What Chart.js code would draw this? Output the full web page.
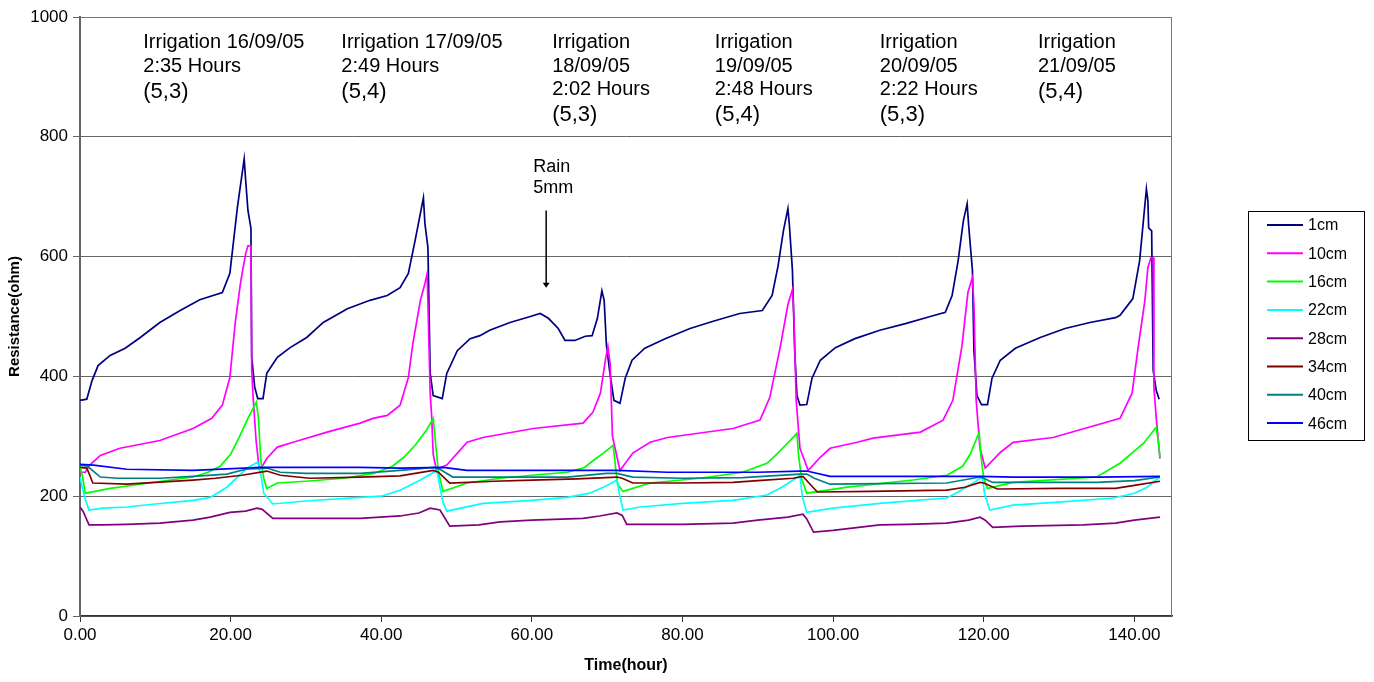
<!DOCTYPE html>
<html>
<head>
<meta charset="utf-8">
<title>Resistance vs time</title>
<script src="https://cdn.jsdelivr.net/npm/chart.js@4/dist/chart.umd.min.js"></script>
<style>
    body { margin: 0; background: #ffffff; }
    #wrap { width: 1374px; height: 682px; }
</style>
</head>
<body>
<div id="wrap"><canvas id="resChart" width="1374" height="682"></canvas></div>
<script>
// ==============================
// Soil resistance per depth, [hour, ohm]
// ==============================

const depthLabels = ["1cm", "10cm", "16cm", "22cm", "28cm", "34cm", "40cm", "46cm"];
const depthColors = ["#000080", "#ff00ff", "#00ff00", "#00ffff", "#800080", "#800000", "#008080", "#0000ff"];

const xTickValues = [0, 20, 40, 60, 80, 100, 120, 140];

const res1cm = [
    [0, 360], [0.9, 362], [1.6, 393], [2.4, 418], [4.0, 435], [6.0, 447], [8.0, 465], [10.6, 490],
    [13.3, 510], [15.9, 528], [18.9, 540], [19.9, 572], [20.9, 682], [21.8, 763], [22.0, 727],
    [22.3, 677], [22.7, 647], [22.8, 432], [23.2, 382], [23.6, 363], [24.3, 363], [24.8, 405],
    [26.2, 432], [27.9, 448], [30.1, 465], [32.3, 490], [35.5, 513], [38.5, 527], [40.8, 535],
    [42.5, 548], [43.6, 572], [44.5, 627], [45.6, 698], [45.8, 655], [46.2, 615], [46.5, 405],
    [46.9, 368], [48.1, 363], [48.7, 405], [50.1, 443], [51.8, 463], [53.1, 468], [54.4, 477],
    [57.1, 490], [59.8, 500], [61.1, 505], [62.2, 497], [63.5, 480], [64.4, 460], [65.7, 460],
    [67.1, 467], [68.0, 468], [68.7, 497], [69.3, 543], [69.6, 527], [69.9, 452], [70.4, 402],
    [70.9, 360], [71.7, 355], [72.4, 397], [73.3, 427], [75.0, 447], [77.7, 463], [81.0, 480],
    [84.3, 493], [87.6, 505], [90.6, 510], [91.9, 535], [92.7, 585], [93.4, 643], [94.0, 680],
    [94.2, 652], [94.6, 577], [94.9, 443], [95.2, 368], [95.6, 352], [96.5, 353], [97.2, 397],
    [98.3, 427], [100.3, 448], [102.9, 463], [106.2, 477], [109.6, 488], [112.9, 500], [114.9, 507],
    [115.8, 535], [116.6, 593], [117.3, 660], [117.8, 688], [118.0, 652], [118.5, 577], [118.7, 443],
    [119.1, 368], [119.7, 353], [120.5, 353], [121.1, 397], [122.2, 427], [124.2, 447], [127.5, 465],
    [130.8, 480], [134.1, 490], [137.5, 498], [138.1, 502], [139.8, 530], [140.7, 593], [141.6, 713],
    [141.8, 693], [141.9, 648], [142.3, 643], [142.5, 410], [142.9, 377], [143.3, 362]
];

const res10cm = [
    [0, 240], [0.7, 240], [1.3, 252], [2.7, 268], [5.3, 280], [10.6, 293], [15.0, 313], [17.5, 330],
    [18.9, 352], [19.9, 398], [20.6, 488], [21.3, 555], [21.6, 577], [22.0, 605], [22.3, 618],
    [22.7, 618], [22.8, 410], [23.0, 363], [23.4, 290], [23.8, 247], [24.2, 250], [24.8, 263],
    [26.2, 282], [28.3, 290], [32.8, 307], [37.2, 322], [38.9, 330], [40.8, 335], [42.5, 352],
    [43.6, 398], [44.2, 455], [45.2, 527], [45.8, 555], [46.1, 572], [46.2, 572], [46.5, 372],
    [46.7, 332], [46.9, 270], [47.3, 245], [48.7, 252], [51.4, 290], [53.5, 298], [60.2, 313],
    [66.8, 322], [68.1, 340], [69.1, 372], [69.8, 430], [70.1, 450], [70.4, 420], [70.7, 300],
    [71.7, 243], [73.4, 272], [75.7, 290], [78.0, 298], [86.7, 313], [90.3, 327], [91.6, 365],
    [93.0, 450], [94.0, 520], [94.6, 545], [94.8, 500], [95.1, 360], [95.6, 280], [96.7, 243],
    [98.3, 265], [99.6, 280], [103.2, 290], [105.3, 297], [111.6, 307], [114.6, 327], [115.9, 360],
    [117.1, 450], [117.9, 540], [118.5, 565], [118.7, 520], [119.0, 360], [119.5, 280], [120.2, 247],
    [122.2, 273], [123.9, 290], [129.2, 298], [138.1, 330], [139.7, 372], [140.5, 448], [141.4, 527],
    [141.8, 582], [142.2, 598], [142.5, 598], [142.6, 382], [142.9, 332], [143.4, 263]
];

const res16cm = [
    [0, 250], [0.3, 235], [0.7, 205], [2.0, 208], [4.0, 213], [8.0, 220], [12.0, 227], [15.0, 232],
    [17.0, 240], [18.6, 250], [20.0, 270], [21.2, 300], [22.3, 330], [23.4, 357], [23.7, 330],
    [24.0, 260], [24.4, 230], [24.8, 213], [26.2, 222], [30.0, 225], [35.0, 230], [39.0, 238],
    [41.5, 250], [43.0, 265], [44.5, 285], [46.0, 310], [46.9, 330], [47.2, 290], [47.6, 240],
    [48.2, 208], [51.4, 222], [55.8, 230], [60.0, 235], [64.7, 240], [67.0, 248], [68.2, 260],
    [69.5, 272], [70.8, 285], [71.1, 250], [71.4, 220], [72.1, 208], [75.7, 222], [82.3, 230],
    [88.0, 240], [91.2, 255], [92.5, 270], [93.9, 288], [95.2, 305], [95.4, 270], [95.8, 230],
    [96.5, 205], [101.9, 215], [110.6, 227], [115.1, 235], [117.2, 250], [118.2, 270], [119.4, 307],
    [119.6, 270], [120.0, 230], [120.5, 213], [123.9, 223], [135.0, 232], [138.1, 255], [141.2, 288],
    [142.9, 315], [143.2, 290], [143.4, 265]
];

const res22cm = [
    [0, 232], [0.3, 215], [0.7, 195], [1.2, 177], [3.0, 180], [6.2, 182], [10.0, 187], [15.0, 193],
    [17.3, 198], [19.5, 215], [22.2, 247], [23.6, 257], [24.1, 230], [24.4, 205], [25.6, 187],
    [30.0, 192], [37.2, 198], [40.0, 200], [42.5, 210], [45.2, 227], [47.4, 243], [47.8, 215],
    [48.2, 190], [48.7, 175], [53.5, 188], [60.0, 193], [64.7, 198], [67.7, 205], [70.0, 218],
    [71.3, 227], [71.6, 205], [72.1, 177], [74.4, 182], [80.0, 188], [86.7, 193], [91.2, 202],
    [93.2, 215], [94.7, 227], [95.6, 235], [95.9, 200], [96.5, 173], [100.0, 180], [106.2, 188],
    [115.1, 197], [116.6, 207], [118.6, 222], [119.8, 232], [120.1, 205], [120.8, 177], [123.9, 185],
    [130.0, 190], [137.2, 197], [140.0, 205], [141.7, 215], [143.4, 232]
];

const res28cm = [
    [0, 182], [0.4, 175], [1.2, 152], [3.0, 152], [6.2, 153], [10.6, 155], [15.0, 160], [17.3, 165],
    [19.9, 173], [22.0, 175], [23.5, 180], [24.2, 178], [25.6, 163], [30.0, 163], [37.2, 163],
    [42.5, 167], [45.0, 172], [46.5, 180], [47.8, 177], [49.1, 150], [53.0, 152], [55.8, 157],
    [60.0, 160], [66.8, 163], [69.0, 167], [71.3, 172], [72.0, 168], [72.6, 153], [80.0, 153],
    [86.7, 155], [90.0, 160], [94.0, 165], [96.0, 170], [96.5, 162], [97.4, 140], [100.0, 143],
    [106.2, 152], [110.0, 153], [115.1, 155], [118.0, 160], [119.5, 165], [120.2, 160], [121.2, 148],
    [125.0, 150], [133.2, 152], [137.5, 155], [140.0, 160], [143.4, 165]
];

const res34cm = [
    [0, 248], [0.9, 247], [1.3, 235], [1.7, 222], [6.2, 220], [10.0, 223], [15.0, 227], [18.0, 230],
    [21.5, 235], [24.8, 242], [26.6, 235], [30.5, 230], [37.2, 232], [42.5, 234], [46.9, 243],
    [47.6, 240], [49.1, 222], [55.0, 225], [60.0, 227], [66.0, 229], [71.3, 232], [72.0, 230],
    [73.4, 222], [80.0, 222], [86.7, 223], [90.0, 226], [94.7, 230], [96.0, 233], [96.8, 222],
    [97.9, 207], [105.0, 208], [115.1, 210], [117.5, 215], [119.5, 223], [120.0, 222], [121.8, 212],
    [130.0, 213], [137.5, 213], [140.0, 218], [143.4, 225]
];

const res40cm = [
    [0, 252], [1.0, 250], [2.7, 232], [5.0, 230], [10.6, 230], [15.0, 233], [19.5, 237], [22.0, 245],
    [24.8, 247], [26.6, 240], [30.0, 238], [37.2, 238], [42.5, 243], [47.0, 248], [47.8, 245],
    [49.5, 232], [55.0, 232], [64.7, 232], [69.9, 238], [71.3, 238], [73.4, 232], [80.0, 230],
    [88.0, 231], [95.6, 237], [96.5, 237], [97.5, 230], [99.6, 220], [106.0, 221], [115.1, 222],
    [119.5, 232], [120.0, 230], [121.2, 223], [135.0, 223], [140.0, 226], [143.4, 232]
];

const res46cm = [
    [0, 253], [1.8, 252], [6.2, 245], [15.0, 243], [24.0, 248], [28.3, 248], [37.2, 248], [42.5, 247],
    [48.2, 248], [51.4, 243], [60.0, 243], [71.3, 243], [78.0, 240], [90.0, 240], [95.6, 242],
    [96.5, 242], [99.6, 233], [106.2, 233], [119.5, 233], [123.9, 232], [135.0, 232], [143.4, 233]
];

const depthSeries = [res1cm, res10cm, res16cm, res22cm, res28cm, res34cm, res40cm, res46cm];

// Notes above the curves: left edge in hours, lines of text
const noteHours = [8.4, 34.7, 62.7, 84.3, 106.2, 127.2];
const noteLines = [
    ["Irrigation 16/09/05", "2:35 Hours", "(5,3)"],
    ["Irrigation 17/09/05", "2:49 Hours", "(5,4)"],
    ["Irrigation", "18/09/05", "2:02 Hours", "(5,3)"],
    ["Irrigation", "19/09/05", "2:48 Hours", "(5,4)"],
    ["Irrigation", "20/09/05", "2:22 Hours", "(5,3)"],
    ["Irrigation", "21/09/05", "(5,4)"]
];
const rainText = ["Rain", "5mm"];
const rainHour = 61.9;

// =====================
// Plugins
// =====================

const framePlugin = {
    id: "frame",
    beforeDatasetsDraw(chart) {
        const { ctx, chartArea: a } = chart;
        ctx.save();
        ctx.strokeStyle = "#777777";
        ctx.lineWidth = 1;
        ctx.beginPath();
        ctx.moveTo(a.left, a.top + 0.5);
        ctx.lineTo(a.right - 0.5, a.top + 0.5);
        ctx.lineTo(a.right - 0.5, a.bottom);
        ctx.stroke();
        ctx.restore();
    }
};

const notesPlugin = {
    id: "notes",
    afterDraw(chart) {
        const { ctx } = chart;
        const x = chart.scales.x, y = chart.scales.y;
        const top = y.getPixelForValue(957);
        ctx.save();
        ctx.fillStyle = "#000000";
        ctx.textBaseline = "middle";
        ctx.textAlign = "left";
        noteLines.forEach((lines, i) => {
            const left = x.getPixelForValue(noteHours[i]);
            lines.forEach((txt, j) => {
                const last = j === lines.length - 1;
                ctx.font = (last ? "22px" : "20px") + " 'Liberation Sans', Arial, sans-serif";
                const dy = j * 23.5 + (last ? 2 : 0);
                ctx.fillText(txt, left, top + dy);
            });
        });

        // rain marker
        const rx = x.getPixelForValue(rainHour);
        ctx.font = "18px 'Liberation Sans', Arial, sans-serif";
        ctx.fillText(rainText[0], rx - 13, y.getPixelForValue(750));
        ctx.fillText(rainText[1], rx - 13, y.getPixelForValue(715));
        const y0 = y.getPixelForValue(677), y1 = y.getPixelForValue(548);
        ctx.strokeStyle = "#000000";
        ctx.lineWidth = 1.5;
        ctx.beginPath();
        ctx.moveTo(rx, y0);
        ctx.lineTo(rx, y1 - 4);
        ctx.stroke();
        ctx.beginPath();
        ctx.moveTo(rx - 3.5, y1 - 5);
        ctx.lineTo(rx + 3.5, y1 - 5);
        ctx.lineTo(rx, y1);
        ctx.closePath();
        ctx.fill();

        // legend box
        const lx = 1248, ly = 211, lw = 116, lh = 229;
        ctx.strokeStyle = "#000000";
        ctx.lineWidth = 1;
        ctx.strokeRect(lx + 0.5, ly + 0.5, lw, lh);
        ctx.font = "16px 'Liberation Sans', Arial, sans-serif";
        chart.data.datasets.forEach((ds, i) => {
            const cy = 225 + i * 28.3;
            ctx.strokeStyle = ds.borderColor;
            ctx.lineWidth = 2;
            ctx.beginPath();
            ctx.moveTo(1267, cy);
            ctx.lineTo(1303, cy);
            ctx.stroke();
            ctx.fillStyle = "#000000";
            ctx.fillText(ds.label, 1308, cy + 1);
        });
        ctx.restore();
    }
};

// =====================
// Chart
// =====================

const datasets = depthLabels.map((label, i) => ({
    label: label,
    data: depthSeries[i],
    borderColor: depthColors[i],
    backgroundColor: depthColors[i],
    borderWidth: 1.7,
    pointRadius: 0,
    tension: 0,
    fill: false,
    order: depthLabels.length - i
}));

new Chart(document.getElementById("resChart"), {
    type: "line",
    data: { datasets: datasets },
    options: {
        responsive: false,
        animation: false,
        layout: { padding: { left: 0, right: 202, top: 17, bottom: 0 } },
        plugins: {
            legend: { display: false },
            tooltip: { enabled: false }
        },
        scales: {
            x: {
                type: "linear",
                min: 0,
                max: 145,
                afterBuildTicks: (s) => { s.ticks = xTickValues.map(v => ({ value: v })); },
                afterFit: (s) => { s.height = 66; },
                ticks: {
                    color: "#000000",
                    padding: 3,
                    font: { family: "'Liberation Sans', Arial, sans-serif", size: 17 },
                    callback: (v) => Number(v).toFixed(2)
                },
                grid: { drawOnChartArea: false, color: "#333333", tickLength: 6 },
                border: { color: "#333333", width: 1.5 },
                title: {
                    display: true,
                    text: "Time(hour)",
                    color: "#000000",
                    padding: { top: 4, bottom: 7 },
                    font: { family: "'Liberation Sans', Arial, sans-serif", size: 16, weight: "bold" }
                }
            },
            y: {
                min: 0,
                max: 1000,
                afterFit: (s) => { s.width = 80; },
                ticks: {
                    stepSize: 200,
                    color: "#000000",
                    padding: 5,
                    font: { family: "'Liberation Sans', Arial, sans-serif", size: 17 },
                    callback: (v) => String(v)
                },
                grid: { color: "#666666", tickLength: 7, lineWidth: 1 },
                border: { color: "#666666", width: 2 },
                title: {
                    display: true,
                    text: "Resistance(ohm)",
                    color: "#000000",
                    padding: { top: 6, bottom: 4 },
                    font: { family: "'Liberation Sans', Arial, sans-serif", size: 15, weight: "bold" }
                }
            }
        }
    },
    plugins: [framePlugin, notesPlugin]
});
</script>
</body>
</html>
